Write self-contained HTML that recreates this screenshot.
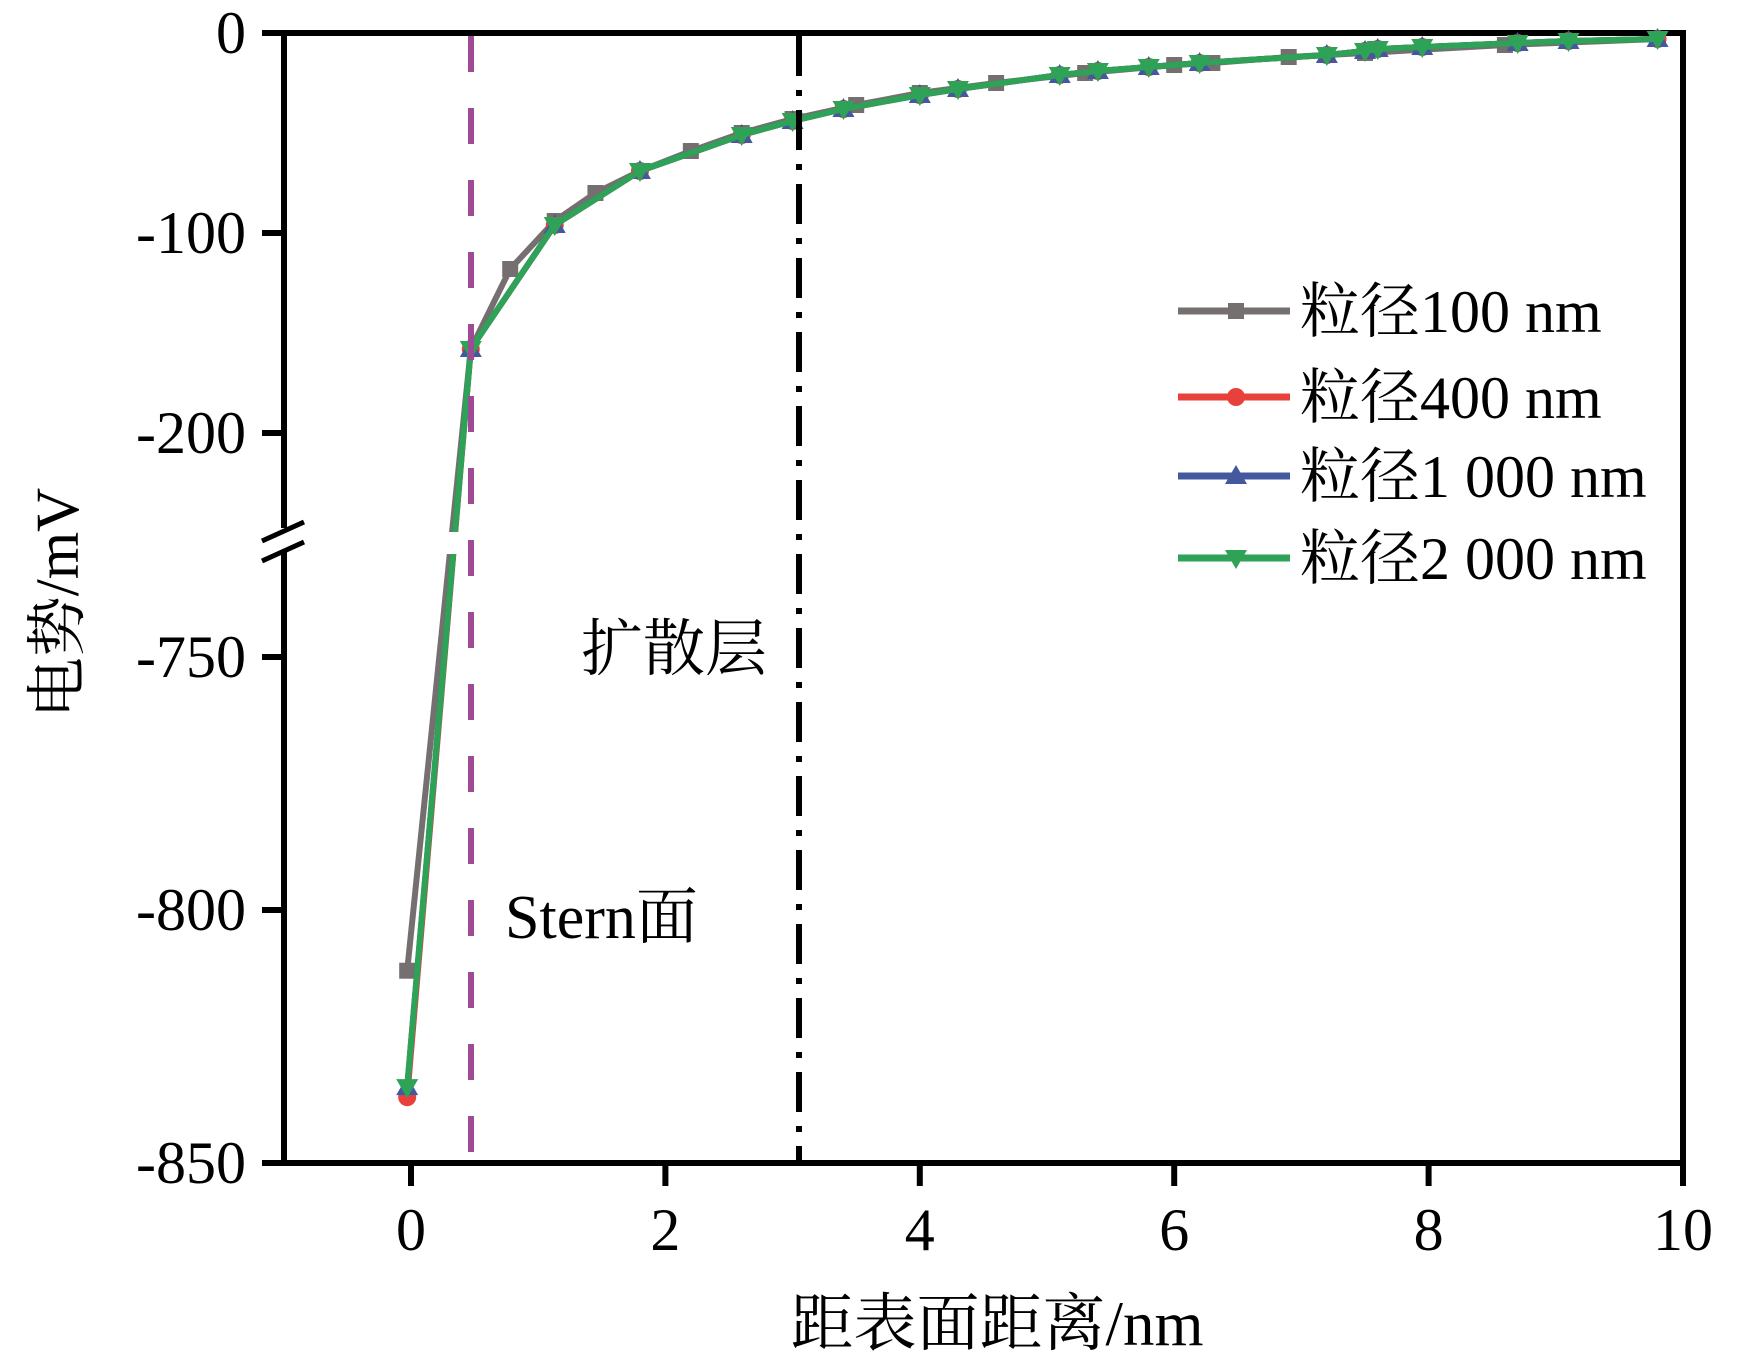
<!DOCTYPE html>
<html><head><meta charset="utf-8"><style>
html,body{margin:0;padding:0;background:#fff;}
svg{display:block;}
text{font-family:"Liberation Serif","Noto Serif CJK SC",serif;fill:#000;}
</style></head><body>
<svg id="s" width="1743" height="1361" viewBox="0 0 1743 1361" xmlns="http://www.w3.org/2000/svg"></svg>
<script>
const s=document.getElementById('s');
const X=x=>411+127.2*x;
const Y=v=> v>=-260 ? 33-2*v : 657+(-750-v)*5.06;
let h='';
h+='<rect x="284" y="33" width="1399" height="1130" fill="none" stroke="#000" stroke-width="6"/>';
[[0,'0'],[-100,'-100'],[-200,'-200'],[-750,'-750'],[-800,'-800'],[-850,'-850']].forEach(([v,l])=>{
 const y=Y(v);h+=`<line x1="262" y1="${y}" x2="284" y2="${y}" stroke="#000" stroke-width="6"/>`;
 h+=`<text x="246" y="${y+20}" font-size="60" text-anchor="end">${l}</text>`;});
[0,2,4,6,8,10].forEach(v=>{const x=X(v);h+=`<line x1="${x}" y1="1163" x2="${x}" y2="1186" stroke="#000" stroke-width="6"/>`;
 h+=`<text x="${x}" y="1250" font-size="60" text-anchor="middle">${v}</text>`;});
h+='<rect x="262" y="528" width="40" height="24" fill="#fff"/>';
h+='<line x1="262" y1="541" x2="304" y2="522" stroke="#000" stroke-width="5"/>';
h+='<line x1="262" y1="561" x2="304" y2="542" stroke="#000" stroke-width="5"/>';
const tail=[[0.47,-158],[0.78,-118],[1.13,-94],[1.45,-80],[1.8,-69],[2.2,-59],[2.6,-50],[3.0,-43],[3.5,-36],[4.0,-30],[4.6,-25],[5.3,-20],[6.0,-16],[6.3,-15],[6.9,-12],[7.5,-10],[8.6,-6],[9.8,-3]];
const tail2=[[0.47,-158],[1.13,-96],[1.8,-69],[2.6,-51],[3.0,-44],[3.4,-38],[4.0,-31],[4.3,-28],[5.1,-21],[5.4,-19],[5.8,-17],[6.2,-15],[7.2,-11],[7.5,-9],[7.6,-8],[7.95,-7],[8.7,-5],[9.1,-4],[9.8,-3]];
const ser=[
 ['#766f6f','sq',[[-0.03,-812],...tail]],
 ['#e8403a','ci',[[-0.03,-837],...tail2]],
 ['#44589f','up',[[-0.03,-835],...tail2]],
 ['#2ea256','dn',[[-0.03,-835],...tail2]]];
function mk(t,x,y,c){
 if(t=='sq')return `<rect x="${x-8}" y="${y-8}" width="16" height="16" fill="${c}"/>`;
 if(t=='ci')return `<circle cx="${x}" cy="${y}" r="9" fill="${c}"/>`;
 if(t=='up')return `<polygon points="${x},${y-11} ${x-11},${y+8} ${x+11},${y+8}" fill="${c}"/>`;
 return `<polygon points="${x},${y+11} ${x-11},${y-8} ${x+11},${y-8}" fill="${c}"/>`;}
ser.forEach(([c,t,d])=>{
 h+=`<polyline fill="none" stroke="${c}" stroke-width="6" points="${d.map(p=>X(p[0])+','+Y(p[1])).join(' ')}"/>`;
 d.forEach(p=>h+=mk(t,X(p[0]),Y(p[1]),c));});
h+='<rect x="380" y="532" width="80" height="22" fill="#fff"/>';
h+=`<line x1="471" y1="36" x2="471" y2="1152" stroke="#a04a96" stroke-width="6" stroke-dasharray="36,36"/>`;
h+=`<line x1="799" y1="36" x2="799" y2="1160" stroke="#000" stroke-width="6" stroke-dasharray="40,14,6,14"/>`;
h+='<text x="581" y="670" font-size="62">扩散层</text>';
h+='<text x="505" y="938" font-size="62">Stern面</text>';
const L=[['#766f6f','sq','粒径100 nm',311],['#e8403a','ci','粒径400 nm',397],['#44589f','up','粒径1 000 nm',476],['#2ea256','dn','粒径2 000 nm',558]];
L.forEach(([c,t,l,y])=>{h+=`<line x1="1178" y1="${y}" x2="1290" y2="${y}" stroke="${c}" stroke-width="7"/>`+mk(t,1236,y,c);
 h+=`<text x="1300" y="${y+21}" font-size="60">${l}</text>`;});
h+='<text x="997" y="1345" font-size="63" text-anchor="middle">距表面距离/nm</text>';
h+='<text transform="translate(78,603) rotate(-90)" font-size="61" text-anchor="middle">电势/mV</text>';
s.innerHTML=h;
</script>
</body></html>
